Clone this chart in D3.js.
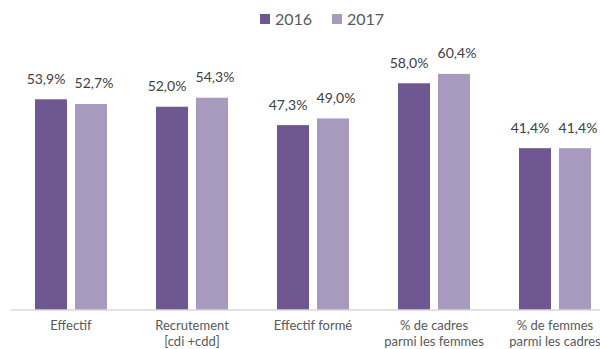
<!DOCTYPE html>
<html>
<head>
<meta charset="utf-8">
<script src="https://cdn.jsdelivr.net/npm/d3@7"></script>
<style>
  html, body { margin: 0; padding: 0; background: #fff; }
  svg { display: block; font-family: Lato, "Open Sans", sans-serif; }
</style>
</head>
<body>
<svg id="chart" width="600" height="349"></svg>
<script>
// Indicators (each label may span two lines)
const categories = [
  ["Effectif"],
  ["Recrutement", "[cdi +cdd]"],
  ["Effectif formé"],
  ["% de cadres", "parmi les femmes"],
  ["% de femmes", "parmi les cadres"]
];
const years = ["2016", "2017"];
const values2016 = [53.9, 52.0, 47.3, 58.0, 41.4];
const values2017 = [52.7, 54.3, 49.0, 60.4, 41.4];
const colors = ["#6f5891", "#a899bf"];

const series = [values2016, values2017];
const fmt = v => d3.format(".1f")(v).replace(".", ",") + "%";

const svg = d3.select("#chart");
const baseY = 310;

const x0 = d3.scaleBand()
  .domain(d3.range(categories.length))
  .range([10.5, 615.5])
  .padding(0);

const groupW = 72;
const x1 = d3.scaleBand()
  .domain(years)
  .range([0, groupW])
  .paddingInner(0.2)
  .paddingOuter(0);

const y = d3.scaleLinear()
  .domain([0, 70])
  .range([baseY, baseY - 70 * 3.909]);

// Paired labels are nudged apart so neighbouring values never touch
const labelNudge = [-5, 3];

// Bars and value labels
const groups = svg.append("g").selectAll("g")
  .data(categories.map((c, i) => i))
  .join("g")
  .attr("transform", i => `translate(${x0(i) + (x0.bandwidth() - groupW) / 2},0)`);

groups.selectAll("rect")
  .data(i => years.map((yr, k) => ({ yr, k, v: series[k][i] })))
  .join("rect")
  .attr("x", d => x1(d.yr))
  .attr("y", d => y(d.v))
  .attr("width", x1.bandwidth())
  .attr("height", d => baseY - y(d.v))
  .attr("fill", d => colors[d.k]);

groups.selectAll("text.val")
  .data(i => years.map((yr, k) => ({ yr, k, v: series[k][i] })))
  .join("text")
  .attr("class", "val")
  .attr("x", d => x1(d.yr) + x1.bandwidth() / 2 + labelNudge[d.k])
  .attr("y", d => y(d.v) - 15.5)
  .attr("text-anchor", "middle")
  .attr("font-size", 14)
  .attr("fill", "#404040")
  .text(d => fmt(d.v));

// Category axis
const xAxis = svg.append("g").attr("transform", `translate(0,${baseY})`);
xAxis.append("line")
  .attr("x1", 10.5).attr("x2", 600)
  .attr("stroke", "#d9d9d9").attr("stroke-width", 1.5);

xAxis.selectAll("text.cat")
  .data(categories.map((lines, i) => ({ lines, i })))
  .join("text")
  .attr("class", "cat")
  .attr("x", d => x0(d.i) + x0.bandwidth() / 2)
  .attr("y", 20)
  .attr("text-anchor", "middle")
  .attr("font-size", 13)
  .attr("fill", "#595959")
  .selectAll("tspan")
  .data(d => d.lines.map(l => ({ l, x: x0(d.i) + x0.bandwidth() / 2 })))
  .join("tspan")
  .attr("x", d => d.x)
  .attr("dy", (d, j) => j === 0 ? 0 : 16)
  .text(d => d.l);

// Legend
const legendX = [260, 332];
const legend = svg.append("g").selectAll("g")
  .data(years)
  .join("g")
  .attr("transform", (d, k) => `translate(${legendX[k]},14)`);
legend.append("rect")
  .attr("width", 10).attr("height", 10)
  .attr("fill", (d, k) => colors[k]);
legend.append("text")
  .attr("x", 15).attr("y", 11)
  .attr("font-size", 16)
  .attr("fill", "#595959")
  .text(d => d);
</script>
</body>
</html>
